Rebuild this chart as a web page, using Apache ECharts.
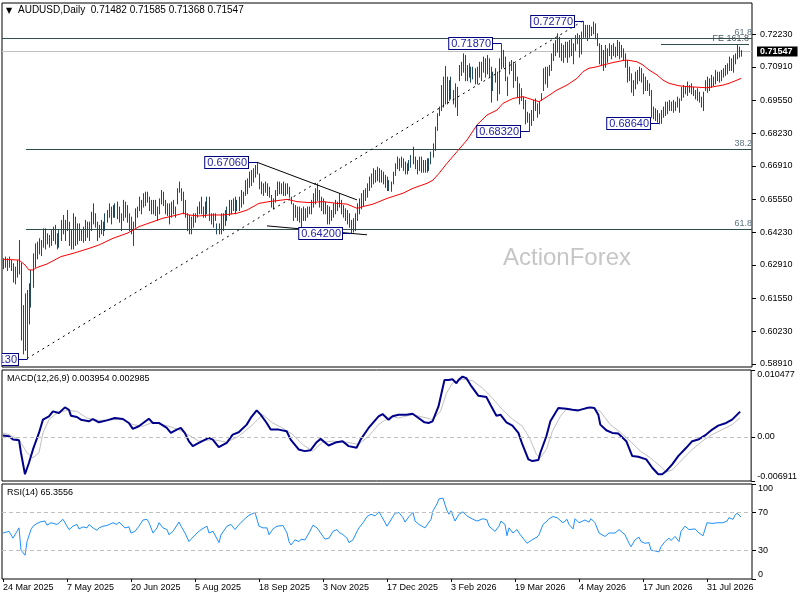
<!DOCTYPE html>
<html><head><meta charset="utf-8">
<script src="https://cdn.jsdelivr.net/npm/echarts@6/dist/echarts.min.js"></script>
<style>html,body{margin:0;padding:0;background:#fff;}#c{width:800px;height:600px;}</style>
</head><body><div id="c"></div>
<script>
const symbolName = 'AUDUSD,Daily';
const lastOHLC = [0.71482, 0.71585, 0.71368, 0.71547];
const tickLabels = ['24 Mar 2025','7 May 2025','20 Jun 2025','5 Aug 2025','18 Sep 2025','3 Nov 2025','17 Dec 2025','3 Feb 2026','19 Mar 2026','4 May 2026','17 Jun 2026','31 Jul 2026'];
const priceTicks = [0.72230,0.70910,0.69550,0.68230,0.66910,0.65550,0.64230,0.62910,0.61550,0.60230,0.58910];
const macdTicks = [0.010477, 0, -0.006911];
const rsiTicks = [100, 70, 30, 0];

const highs = [
.6318,.6325,.6318,.6325,.6311,.6298,.6284,.6311,.6392,.6300,
.6129,.6176,.6190,.6217,.6271,.6338,.6378,.6385,.6399,.6392,
.6439,.6439,.6419,.6412,.6432,.6446,.6453,.6419,.6432,.6473,
.6493,.6473,.6513,.6466,.6432,.6500,.6486,.6459,.6459,.6432,
.6446,.6473,.6466,.6466,.6506,.6540,.6500,.6466,.6453,.6473,
.6466,.6500,.6513,.6540,.6527,.6533,.6540,.6547,.6527,.6500,
.6554,.6547,.6533,.6500,.6486,.6466,.6520,.6527,.6567,.6554,
.6581,.6587,.6587,.6567,.6554,.6554,.6554,.6527,.6560,.6594,
.6587,.6554,.6540,.6540,.6547,.6554,.6527,.6601,.6628,.6601,
.6587,.6554,.6500,.6493,.6486,.6500,.6500,.6527,.6547,.6567,
.6527,.6547,.6567,.6567,.6500,.6500,.6500,.6459,.6459,.6500,
.6500,.6513,.6527,.6554,.6554,.6560,.6567,.6554,.6567,.6594,
.6587,.6634,.6641,.6668,.6675,.6682,.6695,.6706,.6661,.6628,
.6621,.6628,.6621,.6607,.6574,.6560,.6594,.6628,.6628,.6621,
.6628,.6621,.6621,.6607,.6567,.6540,.6533,.6527,.6527,.6520,
.6527,.6520,.6527,.6527,.6554,.6581,.6601,.6621,.6594,.6567,
.6560,.6547,.6533,.6527,.6513,.6540,.6554,.6547,.6581,.6554,
.6533,.6520,.6513,.6500,.6473,.6480,.6500,.6540,.6560,.6581,
.6594,.6601,.6621,.6648,.6661,.6682,.6675,.6688,.6682,.6675,
.6668,.6655,.6648,.6634,.6628,.6668,.6702,.6729,.6722,.6729,
.6722,.6709,.6702,.6715,.6735,.6769,.6729,.6715,.6729,.6729,
.6715,.6715,.6722,.6722,.6749,.6782,.6850,.6904,.6931,.7018,
.7052,.7095,.7052,.7038,.7052,.6998,.7025,.7011,.7099,.7112,
.7146,.7139,.7099,.7106,.7092,.7092,.7086,.7092,.7112,.7112,
.7133,.7126,.7139,.7126,.7092,.7072,.7086,.7072,.7126,.7187,
.7160,.7133,.7052,.7112,.7119,.7112,.7106,.7052,.7025,.7005,
.6971,.6958,.6910,.6904,.6917,.6958,.6964,.6944,.6951,.6985,
.7086,.7092,.7092,.7099,.7146,.7187,.7200,.7227,.7213,.7187,
.7180,.7193,.7193,.7200,.7207,.7187,.7220,.7227,.7220,.7234,
.7277,.7261,.7261,.7261,.7254,.7274,.7267,.7227,.7187,.7180,
.7160,.7180,.7166,.7187,.7180,.7187,.7173,.7200,.7193,.7180,
.7166,.7146,.7119,.7092,.7065,.7038,.7072,.7079,.7092,.7086,
.7065,.7052,.7038,.7025,.6998,.6931,.6924,.6917,.6904,.6917,
.6931,.6951,.6951,.6958,.6951,.6958,.6951,.6971,.6964,.7011,
.7018,.7011,.7032,.7018,.7025,.7011,.6998,.7005,.6991,.6971,
.6991,.7038,.7052,.7045,.7059,.7052,.7079,.7072,.7072,.7079,
.7086,.7099,.7106,.7133,.7126,.7139,.7146,.7180,.7173,.71585
];
const lows = [
.6278,.6284,.6271,.6284,.6271,.6224,.6217,.6244,.6257,.5990,
.5934,.5948,.5913,.6055,.6123,.6203,.6284,.6318,.6338,.6331,
.6365,.6358,.6378,.6365,.6372,.6392,.6378,.6358,.6365,.6392,
.6419,.6392,.6432,.6372,.6358,.6358,.6372,.6378,.6392,.6392,
.6385,.6392,.6405,.6392,.6432,.6459,.6446,.6392,.6405,.6419,
.6412,.6432,.6466,.6486,.6459,.6486,.6486,.6480,.6466,.6432,
.6473,.6486,.6466,.6432,.6419,.6372,.6446,.6486,.6513,.6500,
.6527,.6533,.6547,.6513,.6500,.6500,.6493,.6473,.6500,.6540,
.6533,.6500,.6493,.6459,.6486,.6500,.6486,.6540,.6587,.6554,
.6500,.6486,.6432,.6419,.6419,.6446,.6466,.6486,.6500,.6500,
.6486,.6486,.6500,.6473,.6459,.6446,.6473,.6419,.6419,.6419,
.6432,.6453,.6473,.6493,.6500,.6513,.6500,.6513,.6513,.6527,
.6540,.6574,.6581,.6607,.6614,.6628,.6648,.6661,.6601,.6581,
.6574,.6587,.6574,.6567,.6527,.6520,.6547,.6574,.6581,.6581,
.6574,.6574,.6581,.6567,.6540,.6473,.6486,.6473,.6466,.6439,
.6473,.6473,.6486,.6500,.6500,.6527,.6540,.6554,.6527,.6513,
.6500,.6500,.6459,.6459,.6473,.6486,.6500,.6513,.6527,.6500,
.6486,.6473,.6459,.6446,.6420,.6426,.6432,.6473,.6500,.6520,
.6533,.6554,.6567,.6594,.6607,.6621,.6628,.6634,.6628,.6628,
.6621,.6607,.6594,.6594,.6591,.6621,.6655,.6682,.6675,.6688,
.6675,.6661,.6661,.6675,.6688,.6702,.6682,.6661,.6675,.6668,
.6668,.6668,.6668,.6675,.6702,.6729,.6756,.6837,.6897,.6917,
.6931,.6944,.6944,.6958,.6964,.6944,.6931,.6897,.7038,.7059,
.7072,.7038,.7038,.7052,.7032,.7045,.7025,.7025,.7052,.7038,
.7072,.7052,.7065,.7052,.6951,.6998,.7032,.6958,.6985,.7086,
.7092,.7038,.6978,.7065,.7079,.7011,.7038,.6971,.6944,.6958,
.6924,.6863,.6870,.6832,.6857,.6877,.6917,.6890,.6904,.6958,
.6998,.7025,.7011,.7059,.7079,.7119,.7139,.7153,.7133,.7119,
.7112,.7133,.7112,.7133,.7139,.7106,.7160,.7187,.7133,.7146,
.7213,.7213,.7200,.7213,.7220,.7227,.7207,.7180,.7106,.7099,
.7079,.7092,.7112,.7139,.7126,.7139,.7133,.7139,.7126,.7133,
.7119,.7092,.7032,.7038,.6991,.6978,.7005,.7025,.7038,.7032,
.6985,.6998,.6998,.6978,.6890,.6884,.6877,.6870,.6864,.6866,
.6890,.6897,.6904,.6917,.6917,.6910,.6917,.6931,.6910,.6958,
.6971,.6985,.6978,.6991,.6985,.6978,.6964,.6958,.6951,.6931,
.6917,.6998,.6991,.6998,.7011,.7018,.7025,.7038,.7032,.7038,
.7052,.7059,.7065,.7079,.7079,.7072,.7106,.7126,.7133,.71368
];

const maPoints = [[0,.6314],[8,.6311],[11,.6291],[13,.6271],[15,.6271],[17,.6281],[22,.6295],[29,.6325],[35,.6338],[43,.6358],[48,.6372],[55,.6399],[62,.6419],[65,.6432],[68,.6446],[75,.6466],[80,.6480],[87,.6493],[90,.6500],[93,.6493],[98,.6489],[103,.6493],[110,.6493],[117,.6500],[122,.6513],[128,.6540],[133,.6547],[142,.6556],[147,.6547],[153,.6543],[160,.6547],[167,.6540],[172,.6537],[177,.6520],[180,.6527],[185,.6537],[192,.6560],[200,.6581],[205,.6601],[212,.6621],[215,.6634],[218,.6661],[222,.6702],[227,.6749],[232,.6796],[237,.6857],[242,.6897],[247,.6917],[250,.6944],[255,.6964],[260,.6971],[265,.6958],[268,.6951],[272,.6971],[277,.6998],[282,.7018],[287,.7045],[290,.7072],[293,.7086],[297,.7092],[300,.7099],[305,.7109],[310,.7117],[312,.7119],[317,.7112],[320,.7099],[323,.7079],[327,.7059],[330,.7038],[333,.7025],[338,.7015],[343,.7011],[348,.7009],[352,.7007],[355,.7011],[360,.7018],[363,.7025],[367,.7038],[369,.7045]];

const macdPoints = [[0,.00021],[3,.00010],[5,-.00042],[8,-.00052],[9,-.00249],[11,-.00586],[13,-.00405],[15,-.00197],[18,.00062],[20,.00270],[23,.00322],[25,.00400],[28,.00374],[29,.00400],[31,.00462],[33,.00425],[34,.00332],[37,.00311],[39,.00270],[43,.00244],[45,.00280],[48,.00228],[52,.00259],[56,.00296],[60,.00280],[63,.00218],[65,.00125],[68,.00166],[73,.00285],[75,.00218],[78,.00218],[82,.00140],[84,.00062],[87,.00114],[89,.00140],[91,.00062],[93,-.00067],[95,-.00145],[98,-.00093],[103,-.00016],[105,-.00042],[108,-.00161],[112,-.00093],[115,.00036],[118,.00073],[122,.00192],[124,.00296],[127,.00415],[129,.00348],[132,.00218],[134,.00114],[138,.00114],[142,.00088],[144,-.00042],[148,-.00197],[151,-.00223],[154,-.00208],[157,-.00083],[159,-.00031],[163,-.00135],[167,-.00083],[170,-.00067],[173,-.00145],[177,-.00171],[179,-.00042],[183,.00140],[188,.00322],[190,.00358],[193,.00270],[195,.00322],[198,.00348],[202,.00348],[205,.00363],[208,.00296],[211,.00228],[213,.00218],[215,.00244],[218,.00477],[221,.00892],[223,.00892],[225,.00903],[227,.00841],[228,.00892],[230,.00944],[232,.00918],[234,.00815],[238,.00643],[242,.00623],[244,.00503],[247,.00332],[249,.00348],[252,.00228],[255,.00176],[258,.00062],[260,-.00119],[263,-.00353],[265,-.00379],[268,-.00363],[269,-.00249],[272,.00010],[274,.00244],[277,.00400],[278,.00451],[282,.00441],[285,.00425],[288,.00415],[292,.00451],[294,.00462],[296,.00451],[298,.00348],[299,.00192],[302,.00104],[305,.00062],[308,.00052],[312,-.00067],[315,-.00301],[318,-.00311],[322,-.00353],[325,-.00483],[328,-.00586],[330,-.00586],[332,-.00534],[335,-.00431],[338,-.00301],[342,-.00171],[345,-.00067],[348,-.00042],[352,.00036],[355,.00114],[358,.00176],[362,.00218],[365,.00270],[369,.003954]];

const signalPoints = [[0,.00062],[3,.00036],[8,-.00042],[12,-.00249],[15,-.00327],[18,-.00249],[20,.00062],[23,.00270],[27,.00374],[32,.00415],[37,.00400],[42,.00296],[48,.00259],[55,.00270],[60,.00270],[65,.00192],[70,.00166],[75,.00228],[82,.00176],[88,.00114],[94,.00010],[98,-.00067],[105,-.00042],[112,-.00083],[118,.00010],[125,.00192],[130,.00348],[135,.00218],[140,.00140],[145,.00036],[150,-.00119],[155,-.00223],[160,-.00083],[165,-.00067],[172,-.00083],[178,-.00119],[183,.00010],[188,.00192],[194,.00322],[198,.00296],[205,.00348],[212,.00296],[215,.00270],[219,.00400],[222,.00685],[225,.00841],[230,.00903],[235,.00882],[240,.00763],[245,.00607],[250,.00425],[255,.00280],[260,.00166],[264,-.00042],[267,-.00275],[269,-.00327],[272,-.00197],[275,.00088],[279,.00322],[282,.00436],[289,.00425],[295,.00451],[299,.00400],[304,.00192],[309,.00073],[314,-.00067],[319,-.00223],[324,-.00327],[329,-.00457],[332,-.00550],[335,-.00519],[340,-.00353],[345,-.00197],[350,-.00067],[355,.00036],[360,.00114],[365,.00192],[369,.002985]];

const rsiPoints = [[0,48.4],[3,50.2],[4,49.1],[5,43.0],[7,50.2],[8,53.8],[9,30.4],[10,28.6],[11,25.0],[12,39.4],[14,52.0],[15,55.6],[17,58.5],[19,60.3],[20,59.2],[21,61.0],[22,56.7],[24,59.2],[25,59.9],[27,57.4],[28,59.2],[30,62.8],[32,55.6],[33,52.0],[35,55.6],[37,57.4],[38,52.7],[40,54.9],[42,53.8],[43,57.4],[45,53.8],[47,51.3],[48,53.8],[50,55.6],[52,56.3],[53,57.4],[55,59.2],[57,57.4],[58,59.9],[61,53.8],[63,54.9],[64,48.4],[66,50.2],[68,55.6],[70,62.1],[72,62.8],[73,59.2],[75,48.4],[77,53.8],[78,59.2],[80,53.8],[82,52.0],[83,46.6],[85,50.2],[88,60.0],[89,55.6],[91,48.4],[93,39.4],[94,41.9],[97,48.4],[99,52.0],[102,55.6],[103,48.4],[105,50.2],[108,38.3],[109,46.6],[112,55.6],[114,57.4],[116,52.0],[118,57.4],[119,59.2],[121,63.5],[123,67.1],[124,68.2],[126,70.0],[128,55.6],[130,53.8],[132,53.8],[133,46.6],[135,52.7],[137,55.6],[138,53.8],[140,56.3],[142,48.4],[143,39.4],[144,35.8],[146,41.2],[148,39.4],[149,41.9],[151,41.2],[153,48.4],[155,56.7],[157,53.8],[158,52.7],[161,41.9],[163,43.0],[165,50.2],[167,52.0],[168,49.1],[170,46.6],[172,43.0],[173,38.3],[175,41.2],[177,50.2],[178,53.8],[180,59.2],[182,65.7],[184,68.2],[186,66.4],[188,70.7],[189,67.1],[192,55.6],[193,56.3],[196,69.3],[198,70.0],[199,68.2],[200,64.6],[201,59.9],[203,65.7],[205,70.0],[206,61.0],[208,57.4],[209,55.6],[211,53.8],[212,55.6],[214,62.8],[215,71.8],[217,79.0],[218,84.4],[220,85.1],[221,84.4],[222,71.8],[223,68.2],[224,71.8],[225,66.4],[226,61.0],[228,68.2],[230,70.7],[232,66.4],[233,64.6],[235,62.8],[237,61.0],[238,62.1],[240,63.5],[242,62.1],[243,55.6],[244,57.4],[246,50.2],[248,55.6],[249,61.0],[251,57.4],[252,45.5],[253,53.8],[255,48.4],[257,52.0],[258,48.4],[260,43.0],[262,37.6],[263,35.8],[265,41.9],[267,44.1],[268,46.6],[270,57.4],[272,61.0],[273,63.5],[275,65.7],[277,64.6],[278,62.8],[280,59.2],[282,62.8],[283,57.4],[285,52.7],[286,63.5],[288,59.2],[289,61.0],[291,62.1],[293,59.9],[294,63.5],[296,59.2],[298,48.4],[299,50.2],[301,44.8],[303,48.4],[304,50.2],[306,48.4],[308,52.0],[309,50.2],[311,46.6],[313,37.6],[314,34.0],[316,41.2],[318,44.1],[319,39.4],[321,37.6],[323,38.3],[324,30.4],[326,29.6],[328,28.6],[329,34.0],[331,39.4],[333,43.0],[334,40.5],[336,44.8],[338,39.4],[339,50.2],[341,55.6],[343,52.0],[344,52.7],[346,52.7],[348,48.4],[349,50.2],[350,45.5],[352,59.2],[353,57.4],[355,58.5],[357,59.2],[358,58.5],[360,59.2],[362,61.0],[363,64.6],[365,62.8],[366,67.1],[367,69.3],[369,65.3556]];

const macdLast = [0.003954, 0.002985];
const rsiLast = 65.3556;

const levelPrices = [0.7207, 0.6760, 0.6435, 0.7184];
const levelFrom = [0, 12, 12, 329];
const levelTo = [374, 374, 374, 373];
const levelNames = ['61.8', '38.2', '61.8', 'FE 161.8'];

const trendDotted = [[12, 0.5913], [290, 0.7277]];
const trendUpper = [[127, 0.6706], [177, 0.6554]];
const trendLower = [[132, 0.6449], [182, 0.6413]];

const pivotIdx = [12, 127, 174, 249, 263, 290, 328];
const pivotPrice = [0.5913, 0.6706, 0.6420, 0.7187, 0.6832, 0.7277, 0.6864];
const pivotText = ['0.59130', '0.67060', '0.64200', '0.71870', '0.68320', '0.72770', '0.68640'];

const NBARS_SLOTS = 375;
const cats = Array.from({length: NBARS_SLOTS}, (_, i) => String(i));
const FONT = '"Liberation Sans", Arial, sans-serif';
const BAR_COLOR = '#1f4a62';

const barRows = highs.map((h, i) => [i, h, lows[i]]);
const levelRows = levelPrices.map((p, i) => [levelFrom[i], levelTo[i], p]);
const pivotRows = pivotIdx.map((x, i) => [x, pivotPrice[i]]);

const chart = echarts.init(document.getElementById('c'), null, {renderer: 'canvas'});

function xAxisFor(gi, showLabels) {
  return {
    type: 'category', gridIndex: gi, data: cats, boundaryGap: true,
    axisLine: {show: false},
    axisTick: {show: showLabels, interval: 31, alignWithLabel: true, length: 3, lineStyle: {color: '#000'}},
    axisLabel: {show: showLabels, interval: 31, align: 'left', margin: 4, fontSize: 9, fontFamily: FONT, color: '#000',
      formatter: (v, i) => tickLabels[Math.round(i / 32)] || ''},
    splitLine: {show: false}
  };
}

const option = {
  animation: false,
  backgroundColor: '#fff',
  grid: [
    {left: 2, top: 3, width: 750, height: 364, show: true, borderColor: '#000', borderWidth: 1},
    {left: 2, top: 370, width: 750, height: 111, show: true, borderColor: '#000', borderWidth: 1},
    {left: 2, top: 484, width: 750, height: 95, show: true, borderColor: '#000', borderWidth: 1}
  ],
  xAxis: [xAxisFor(0, false), xAxisFor(1, false), xAxisFor(2, true)],
  yAxis: [
    {type: 'value', gridIndex: 0, position: 'right', min: 0.58789, max: 0.73495,
      axisLine: {show: false}, splitLine: {show: false},
      axisTick: {show: true, customValues: priceTicks, length: 4, lineStyle: {color: '#000'}},
      axisLabel: {customValues: priceTicks, margin: 8, fontSize: 9, fontFamily: FONT, color: '#000', formatter: v => v.toFixed(5)}},
    {type: 'value', gridIndex: 1, position: 'right', min: -0.006911, max: 0.010477,
      axisLine: {show: false}, splitLine: {show: false},
      axisTick: {show: true, customValues: macdTicks, length: 4, lineStyle: {color: '#000'}},
      axisLabel: {customValues: macdTicks, margin: 6, fontSize: 9, fontFamily: FONT, color: '#000',
        verticalAlignMinLabel: 'top', verticalAlignMaxLabel: 'bottom',
        formatter: v => (v === 0 ? '0.00' : v.toFixed(6))}},
    {type: 'value', gridIndex: 2, position: 'right', min: 0, max: 100,
      axisLine: {show: false}, splitLine: {show: false},
      axisTick: {show: true, customValues: rsiTicks, length: 4, lineStyle: {color: '#000'}},
      axisLabel: {customValues: rsiTicks, margin: 6, fontSize: 9, fontFamily: FONT, color: '#000',
        verticalAlignMinLabel: 'top', verticalAlignMaxLabel: 'bottom',
        formatter: v => String(v)}}
  ],
  graphic: [
    {type: 'text', left: 6, top: 7, style: {text: '▼', font: '8px "DejaVu Sans"', fill: '#000'}},
    {type: 'text', left: 18, top: 5, style: {text: symbolName + '  ' + lastOHLC.map(v => v.toFixed(5)).join(' '), font: '10px ' + FONT, fill: '#000'}},
    {type: 'text', left: 7, top: 374, style: {text: 'MACD(12,26,9) ' + macdLast[0].toFixed(6) + ' ' + macdLast[1].toFixed(6), font: '9px ' + FONT, fill: '#000'}},
    {type: 'text', left: 7, top: 488, style: {text: 'RSI(14) ' + rsiLast.toFixed(4), font: '9px ' + FONT, fill: '#000'}},
    {type: 'text', left: 503, top: 246, z: -10, style: {text: 'ActionForex', font: '24px ' + FONT, fill: '#c6c6c6'}}
  ],
  series: [
    {
      name: 'levels', type: 'custom', xAxisIndex: 0, yAxisIndex: 0, z: 1,
      data: levelRows, encode: {x: [0, 1], y: 2},
      renderItem: (params, api) => {
        const p1 = api.coord([api.value(0), api.value(2)]);
        const p2 = api.coord([api.value(1), api.value(2)]);
        const y = Math.round(p1[1]) + 0.5;
        const isFE = params.dataIndex === 3;
        return {type: 'group', children: [
          {type: 'line', shape: {x1: isFE ? p1[0] : p1[0] - 1, y1: y, x2: isFE ? p2[0] : p2[0] + 1, y2: y}, style: {stroke: '#2f4f4f', lineWidth: 1}},
          {type: 'text', x: isFE ? p2[0] : p2[0] + 1, y: y - 1, style: {text: levelNames[params.dataIndex], align: 'right', verticalAlign: 'bottom', fill: isFE ? '#4e5862' : '#5d7383', font: '9px ' + FONT}}
        ]};
      }
    },
    {
      name: 'lastPrice', type: 'custom', xAxisIndex: 0, yAxisIndex: 0, z: 1,
      data: [[0, lastOHLC[3]]], encode: {x: 0, y: 1},
      renderItem: (params, api) => {
        const cs = params.coordSys;
        const p = api.coord([0, api.value(1)]);
        const y = Math.round(p[1]) + 0.5;
        return {type: 'group', children: [
          {type: 'line', shape: {x1: cs.x, y1: y, x2: cs.x + cs.width, y2: y}, style: {stroke: '#c0c0c0', lineWidth: 1}},
          {type: 'text', x: cs.x + cs.width + 5, y: y, style: {text: api.value(1).toFixed(5), align: 'left', verticalAlign: 'middle',
            fill: '#fff', backgroundColor: '#000', padding: [1, 5, 0, 3], font: 'bold 9px ' + FONT}}
        ]};
      }
    },
    {
      name: 'MA', type: 'line', xAxisIndex: 0, yAxisIndex: 0, z: 3,
      data: maPoints, symbol: 'none', lineStyle: {color: '#ff0000', width: 1}
    },
    {
      name: 'bars', type: 'custom', xAxisIndex: 0, yAxisIndex: 0, z: 2,
      data: barRows, encode: {x: 0, y: [1, 2]},
      renderItem: (params, api) => {
        const hi = api.coord([api.value(0), api.value(1)]);
        const lo = api.coord([api.value(0), api.value(2)]);
        const x = Math.floor(hi[0]) + 0.5;
        return {type: 'line', shape: {x1: x, y1: hi[1], x2: x, y2: lo[1] + 1}, style: {stroke: BAR_COLOR, lineWidth: 1}};
      }
    },
    {name: 'trendDotted', type: 'line', xAxisIndex: 0, yAxisIndex: 0, z: 4, data: trendDotted, symbol: 'none',
      lineStyle: {color: '#000', width: 1, type: [2, 4]}},
    {name: 'trendUpper', type: 'line', xAxisIndex: 0, yAxisIndex: 0, z: 4, data: trendUpper, symbol: 'none',
      lineStyle: {color: '#000', width: 1}},
    {name: 'trendLower', type: 'line', xAxisIndex: 0, yAxisIndex: 0, z: 4, data: trendLower, symbol: 'none',
      lineStyle: {color: '#000', width: 1}},
    {
      name: 'pivots', type: 'custom', xAxisIndex: 0, yAxisIndex: 0, z: 6, clip: true,
      data: pivotRows, encode: {x: 0, y: 1},
      renderItem: (params, api) => {
        const p = api.coord([api.value(0), api.value(1)]);
        const y = Math.round(p[1]) + 0.5;
        const bx = Math.round(p[0]) - 9;
        return {type: 'group', children: [
          {type: 'line', shape: {x1: bx, y1: y, x2: p[0], y2: y}, style: {stroke: '#000080', lineWidth: 1}},
          {type: 'text', x: bx, y: y, style: {text: pivotText[params.dataIndex], align: 'right', verticalAlign: 'middle',
            fill: '#2424a8', font: '11px ' + FONT, backgroundColor: '#fff', borderColor: '#000080', borderWidth: 1,
            padding: [0, 1, 0, 2], lineHeight: 11}}
        ]};
      }
    },
    {
      name: 'MACD', type: 'line', xAxisIndex: 1, yAxisIndex: 1, z: 3,
      data: macdPoints, symbol: 'none', lineStyle: {color: '#00008b', width: 2},
      markLine: {silent: true, symbol: 'none', animation: false, label: {show: false},
        data: [{yAxis: 0}], lineStyle: {color: '#c0c0c0', type: [4, 3], width: 1}}
    },
    {name: 'Signal', type: 'line', xAxisIndex: 1, yAxisIndex: 1, z: 2,
      data: signalPoints, symbol: 'none', lineStyle: {color: '#c0c0c0', width: 1}},
    {
      name: 'RSI', type: 'line', xAxisIndex: 2, yAxisIndex: 2, z: 3,
      data: rsiPoints, symbol: 'none', lineStyle: {color: '#1e90ff', width: 1},
      markLine: {silent: true, symbol: 'none', animation: false, label: {show: false},
        data: [{yAxis: 70}, {yAxis: 30}], lineStyle: {color: '#c0c0c0', type: [4, 3], width: 1}}
    }
  ]
};
chart.setOption(option);
</script>
</body></html>
